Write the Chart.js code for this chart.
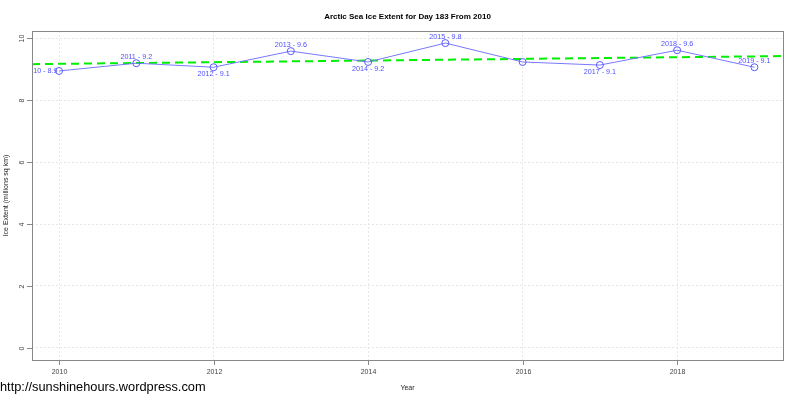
<!DOCTYPE html>
<html>
<head>
<meta charset="utf-8">
<script src="https://cdn.jsdelivr.net/npm/chart.js@4"></script>
<style>
  body { margin: 0; background: #fff; }
  canvas { display: block; }
</style>
</head>
<body>
<canvas id="iceChart" width="801" height="400"></canvas>
<script>
// Data
const years = [2010, 2011, 2012, 2013, 2014, 2015, 2016, 2017, 2018, 2019];
const extent = [8.94, 9.19, 9.06, 9.58, 9.23, 9.84, 9.23, 9.13, 9.61, 9.06];
const trendX = [2009.65, 2019.37];
const trendY = [9.16, 9.42];
const xTicks = [2010, 2012, 2014, 2016, 2018];
const yTicks = [0, 2, 4, 6, 8, 10];

// R text() pos: 1 below, 2 left, 3 above, 0 none
const labelPos = [2, 3, 1, 3, 1, 3, 0, 1, 3, 3];

const FONT = '"Liberation Sans", Arial, sans-serif';

// draws box, ticks, titles and point labels the way R does
const rStyle = {
  id: 'rStyle',
  afterDraw(chart) {
    const ctx = chart.ctx;
    const a = chart.chartArea;
    const xs = chart.scales.x, ys = chart.scales.y;
    ctx.save();

    // point labels (clipped to plot region like R)
    ctx.save();
    ctx.beginPath();
    ctx.rect(a.left, a.top, a.right - a.left, a.bottom - a.top);
    ctx.clip();
    ctx.font = '7.2px ' + FONT;
    ctx.fillStyle = 'rgb(80,80,255)';
    years.forEach((yr, i) => {
      const p = labelPos[i];
      if (!p) return;
      const px = xs.getPixelForValue(yr);
      const py = ys.getPixelForValue(extent[i]);
      const txt = yr + ' - ' + extent[i].toFixed(1);
      ctx.textBaseline = 'middle';
      if (p === 2) {
        ctx.textAlign = 'right';
        ctx.fillText(txt, px - 1.5, py);
      } else {
        ctx.textAlign = 'center';
        ctx.fillText(txt, px, p === 3 ? py - 6 : py + 7);
      }
    });
    ctx.restore();

    // box
    ctx.strokeStyle = '#888';
    ctx.lineWidth = 1;
    ctx.strokeRect(a.left + 0.5, a.top + 0.5, a.right - a.left, a.bottom - a.top);

    // tick marks + labels
    ctx.fillStyle = '#444';
    ctx.font = '7px ' + FONT;
    xTicks.forEach(v => {
      const px = Math.round(xs.getPixelForValue(v)) + 0.5;
      ctx.beginPath();
      ctx.moveTo(px, a.bottom);
      ctx.lineTo(px, a.bottom + 5);
      ctx.stroke();
      ctx.textAlign = 'center';
      ctx.textBaseline = 'middle';
      ctx.fillText(String(v), px, a.bottom + 12);
    });
    yTicks.forEach(v => {
      const py = Math.round(ys.getPixelForValue(v)) + 0.5;
      ctx.beginPath();
      ctx.moveTo(a.left - 5, py);
      ctx.lineTo(a.left, py);
      ctx.stroke();
      ctx.save();
      ctx.translate(a.left - 10, py);
      ctx.rotate(-Math.PI / 2);
      ctx.textAlign = 'center';
      ctx.textBaseline = 'middle';
      ctx.fillText(String(v), 0, 0);
      ctx.restore();
    });

    // title
    ctx.fillStyle = '#000';
    ctx.font = 'bold 8px ' + FONT;
    ctx.textAlign = 'center';
    ctx.textBaseline = 'middle';
    ctx.fillText('Arctic Sea Ice Extent for Day 183 From 2010', (a.left + a.right) / 2, 17);

    // axis titles
    ctx.font = '7px ' + FONT;
    ctx.fillStyle = '#222';
    ctx.fillText('Year', (a.left + a.right) / 2, 388);
    ctx.save();
    ctx.translate(6, (a.top + a.bottom) / 2);
    ctx.rotate(-Math.PI / 2);
    ctx.fillText('Ice Extent (millions sq km)', 0, 0);
    ctx.restore();

    // watermark
    ctx.fillStyle = '#000';
    ctx.font = '12.8px ' + FONT;
    ctx.textAlign = 'left';
    ctx.textBaseline = 'middle';
    ctx.fillText('http://sunshinehours.wordpress.com', 0, 387);

    ctx.restore();
  }
};

const ctx = document.getElementById('iceChart').getContext('2d');
new Chart(ctx, {
  type: 'scatter',
  data: {
    datasets: [{
      label: 'Extent',
      data: years.map((y, i) => ({x: y, y: extent[i]})),
      showLine: true,
      borderColor: 'rgb(120,120,255)',
      borderWidth: 1,
      pointRadius: 3.5,
      pointBorderColor: 'rgb(90,90,255)',
      pointBackgroundColor: 'rgba(0,0,0,0)',
      pointBorderWidth: 1,
      order: 1
    }, {
      label: 'Trend',
      data: trendX.map((x, i) => ({x: x, y: trendY[i]})),
      showLine: true,
      borderColor: '#00ee00',
      borderWidth: 2,
      borderDash: [8, 5],
      pointRadius: 0,
      order: 2
    }]
  },
  options: {
    responsive: false,
    animation: false,
    devicePixelRatio: 1,
    layout: { padding: { left: 32, top: 31, right: 18, bottom: 40 } },
    plugins: { legend: { display: false }, tooltip: { enabled: false } },
    scales: {
      x: {
        type: 'linear', min: 2009.65, max: 2019.37,
        afterBuildTicks: s => { s.ticks = xTicks.map(v => ({value: v})); },
        ticks: { display: false },
        grid: { color: '#e6e6e6', drawTicks: false },
        border: { display: false, dash: [2, 2] }
      },
      y: {
        type: 'linear', min: -0.39, max: 10.23,
        afterBuildTicks: s => { s.ticks = yTicks.map(v => ({value: v})); },
        ticks: { display: false },
        grid: { color: '#e6e6e6', drawTicks: false },
        border: { display: false, dash: [2, 2] }
      }
    }
  },
  plugins: [rStyle]
});
</script>
</body>
</html>
